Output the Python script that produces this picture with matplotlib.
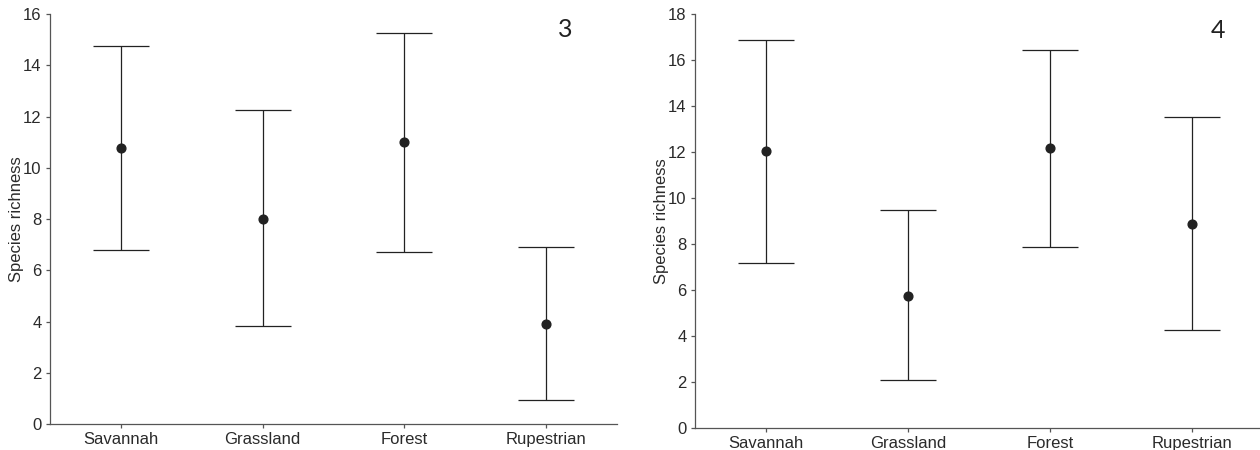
import matplotlib.pyplot as plt

# -----------------------------
# Data
# -----------------------------
habitats = ["Savannah", "Grassland", "Forest", "Rupestrian"]

mean_3 = [10.78, 8.02, 11.0, 3.92]
upper_3 = [14.76, 12.27, 15.27, 6.91]
lower_3 = [6.79, 3.82, 6.72, 0.92]

mean_4 = [12.05, 5.73, 12.2, 8.85]
upper_4 = [16.88, 9.46, 16.44, 13.55]
lower_4 = [7.18, 2.07, 7.86, 4.24]

panel_labels = ["3", "4"]

plt.rcParams["font.family"] = ["Liberation Sans", "DejaVu Sans"]

fig = plt.figure(figsize=(12.6, 4.5), dpi=100)
ax1 = fig.add_axes([0.0397, 0.0578, 0.45, 0.911])
ax2 = fig.add_axes([0.5516, 0.0496, 0.4484, 0.9184])

line_col = "#222222"
axis_col = "#555555"
text_col = "#2a2a2a"


def draw(ax, means, upper, lower, ymax, label, lx):
    x = list(range(1, len(habitats) + 1))
    err = [[m - lo for m, lo in zip(means, lower)],
           [hi - m for m, hi in zip(means, upper)]]
    ax.errorbar(x, means, yerr=err, fmt="o", color=line_col,
                ecolor=line_col, elinewidth=0.9, capsize=20,
                capthick=0.9, markersize=6.3)
    ax.set_ylim(0, ymax)
    ax.set_yticks(range(0, ymax + 1, 2))
    ax.set_xticks(x)
    ax.set_xticklabels(habitats)
    ax.set_ylabel("Species richness", fontsize=12, color=text_col, labelpad=-0.5)
    for s in ["top", "right"]:
        ax.spines[s].set_visible(False)
    for s in ["left", "bottom"]:
        ax.spines[s].set_color(axis_col)
        ax.spines[s].set_linewidth(0.9)
    ax.tick_params(axis="both", direction="out", length=3, width=0.9,
                   colors=axis_col, labelcolor=text_col, labelsize=12, pad=3)
    ax.text(lx, 0.99, label, transform=ax.transAxes, fontsize=18,
            family=["Lato", "DejaVu Sans"], color="#222222",
            ha="center", va="top")


draw(ax1, mean_3, upper_3, lower_3, 16, panel_labels[0], 0.908)
ax1.set_xlim(0.5, 4.5)

draw(ax2, mean_4, upper_4, lower_4, 18, panel_labels[1], 0.925)
ax2.set_xlim(0.5, 4.48)

fig.savefig("out.png", dpi=100)
